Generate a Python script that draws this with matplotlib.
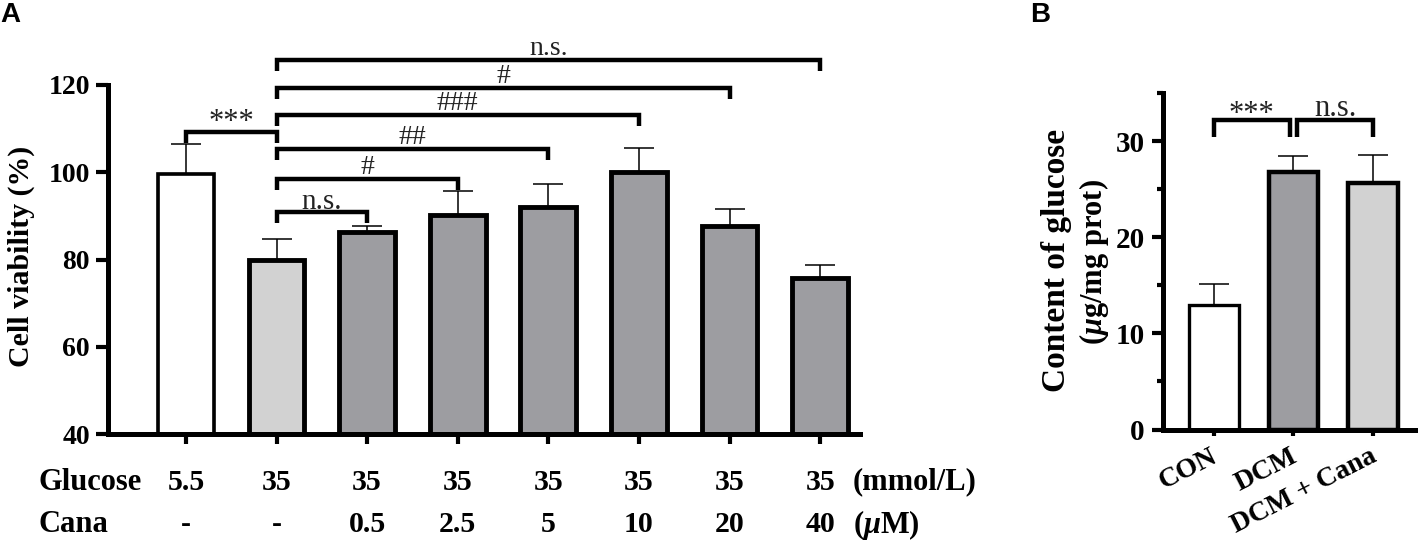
import matplotlib
matplotlib.use('Agg')
import matplotlib.pyplot as plt
from matplotlib.transforms import ScaledTranslation, blended_transform_factory

plt.rcParams['font.family'] = ['Liberation Serif', 'DejaVu Serif']
plt.rcParams['font.weight'] = 'bold'
plt.rcParams['mathtext.fontset'] = 'custom'
plt.rcParams['mathtext.it'] = 'Liberation Serif:italic:bold'
plt.rcParams['mathtext.rm'] = 'Liberation Serif:bold'

W, H = 1418, 541

# panel A
viability = [99.7, 79.8, 86.4, 90.1, 92.0, 100.1, 87.7, 75.8]
viability_err = [6.7, 4.8, 1.3, 5.6, 5.4, 5.4, 3.8, 3.0]
glucose_labels = ['5.5', '35', '35', '35', '35', '35', '35', '35']
cana_labels = ['-', '-', '0.5', '2.5', '5', '10', '20', '40']
colors_a = ['white', '#d2d2d2', '#9d9da1', '#9d9da1', '#9d9da1', '#9d9da1', '#9d9da1', '#9d9da1']

# panel B
groups_b = ['CON', 'DCM', 'DCM + Cana']
glucose = [13.0, 26.8, 25.6]
glucose_err = [2.1, 1.6, 3.0]
colors_b = ['white', '#9d9da1', '#d2d2d2']


def axes_px(fig, left, top, right, bottom):
    return fig.add_axes([left / W, 1 - bottom / H, (right - left) / W, (bottom - top) / H])


def bracket(ax, x1, x2, y, drop1, drop2, label, size=20, pad=0.0):
    ax.plot([x1, x1, x2, x2], [y - drop1, y, y, y - drop2], color='black', lw=3.2,
            clip_on=False, solid_joinstyle='miter', solid_capstyle='butt')
    ax.text((x1 + x2) / 2, y + pad, label, ha='center', va='bottom', fontsize=size,
            fontweight='normal', color='#222222', clip_on=False)


def style_axes(ax):
    ax.spines['top'].set_visible(False)
    ax.spines['right'].set_visible(False)
    ax.spines['left'].set_linewidth(3.6)
    ax.spines['bottom'].set_linewidth(3.6)
    ax.patch.set_alpha(0)


def draw_bars(ax, values, errs, colors, width, lw):
    xs = list(range(len(values)))
    lows = [0] * len(values)
    ax.errorbar(xs, values, yerr=[lows, errs], fmt='none', ecolor='black', elinewidth=1.1,
                capsize=10.5, capthick=1.1, zorder=1)
    # the white bars have a slightly thinner outline than the grey ones
    widths = [lw * 0.75 if c == 'white' else lw for c in colors]
    ax.bar(xs, values, width=width, color=colors, edgecolor='black', linewidth=widths, zorder=2)


fig = plt.figure(figsize=(W / 100, H / 100), dpi=100)

# --- A ---
ax = axes_px(fig, 108, 85, 860, 434)
style_axes(ax)
draw_bars(ax, viability, viability_err, colors_a, 0.615, 3.5)
ax.set_xlim(-0.86, 7.44)
ax.set_ylim(40, 120)
ax.set_yticks([40, 60, 80, 100, 120])
ax.tick_params(axis='y', length=8.5, width=3, labelsize=20, pad=4.5)
ax.set_xticks(range(8))
ax.set_xticklabels([])
ax.tick_params(axis='x', length=7.5, width=3)
ax.set_ylabel('Cell viability (%)', fontsize=21.5, fontweight='bold', labelpad=10, y=0.51)

bracket(ax, 0, 1, 109.2, 2.4, 2.4, '***', size=22, pad=-1.1)
bracket(ax, 1, 2, 90.9, 2.5, 2.5, 'n.s.', size=21, pad=-0.6)
bracket(ax, 1, 3, 98.5, 2.5, 2.5, '#', pad=-0.3)
bracket(ax, 1, 4, 105.3, 2.5, 2.5, '##', pad=-0.3)
bracket(ax, 1, 5, 113.1, 2.5, 2.5, '###', pad=-0.3)
bracket(ax, 1, 6, 119.3, 2.5, 2.5, '#', pad=-0.3)
bracket(ax, 1, 7, 125.7, 2.5, 2.5, 'n.s.', size=20, pad=-0.3)

row_tf = blended_transform_factory(ax.transData, fig.transFigure)
for i in range(8):
    ax.text(i, 1 - 482 / H, glucose_labels[i], transform=row_tf, ha='center', va='center', fontsize=21.5)
    ax.text(i, 1 - 525 / H, cana_labels[i], transform=row_tf, ha='center', va='center', fontsize=21.5)
fig.text(38 / W, 1 - 482 / H, 'Glucose', ha='left', va='center', fontsize=22)
fig.text(38 / W, 1 - 525 / H, 'Cana', ha='left', va='center', fontsize=22)
fig.text(853 / W, 1 - 482 / H, '(mmol/L)', ha='left', va='center', fontsize=22)
fig.text(853 / W, 1 - 525 / H, r'($\mu$M)', ha='left', va='center', fontsize=22)

# --- B ---
bx = axes_px(fig, 1163, 93, 1416, 429.5)
style_axes(bx)
draw_bars(bx, glucose, glucose_err, colors_b, 0.62, 3.2)
bx.set_xlim(-0.64, 2.54)
bx.set_ylim(0, 35)
bx.set_yticks([0, 10, 20, 30])
bx.set_yticks([5, 15, 25, 35], minor=True)
bx.tick_params(axis='y', which='major', length=8, width=3, labelsize=21, pad=5)
bx.tick_params(axis='y', which='minor', length=4.5, width=3)
bx.set_xticks(range(3))
bx.set_xticklabels(groups_b, rotation=27, ha='right', rotation_mode='anchor', fontsize=20)
bx.tick_params(axis='x', length=4.5, width=3, pad=6)
for lab in bx.get_xticklabels():
    lab.set_transform(lab.get_transform() + ScaledTranslation(-4 / 100, 0, fig.dpi_scale_trans))

bracket(bx, 0, 0.95, 32.15, 1.7, 1.7, '***', size=22, pad=-0.9)
bracket(bx, 1.05, 2.0, 32.15, 1.7, 1.7, 'n.s.', size=22, pad=-0.3)

fig.text(1057 / W, 1 - 260 / H, 'Content of glucose', rotation=90, ha='center', va='center', fontsize=24)
fig.text(1094 / W, 1 - 262 / H, r'($\mu$g/mg prot)', rotation=90, ha='center', va='center', fontsize=22)

fig.text(0, 1 - 15 / H, 'A', family='Liberation Sans', fontweight='bold', fontsize=20, va='center')
fig.text(1030 / W, 1 - 15 / H, 'B', family='Liberation Sans', fontweight='bold', fontsize=20, va='center')

fig.savefig('out.png', dpi=100)
